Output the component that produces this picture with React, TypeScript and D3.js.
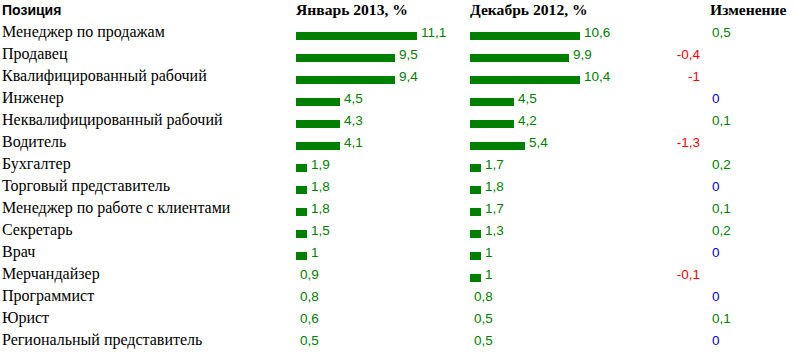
import React from "react";
import * as d3 from "d3";

const positions = [
  "Менеджер по продажам",
  "Продавец",
  "Квалифицированный рабочий",
  "Инженер",
  "Неквалифицированный рабочий",
  "Водитель",
  "Бухгалтер",
  "Торговый представитель",
  "Менеджер по работе с клиентами",
  "Секретарь",
  "Врач",
  "Мерчандайзер",
  "Программист",
  "Юрист",
  "Региональный представитель",
];
const jan2013 = [11.1, 9.5, 9.4, 4.5, 4.3, 4.1, 1.9, 1.8, 1.8, 1.5, 1, 0.9, 0.8, 0.6, 0.5];
const dec2012 = [10.6, 9.9, 10.4, 4.5, 4.2, 5.4, 1.7, 1.8, 1.7, 1.3, 1, 1, 0.8, 0.5, 0.5];
const change = [0.5, -0.4, -1, 0, 0.1, -1.3, 0.2, 0, 0.1, 0.2, 0, -0.1, 0, 0.1, 0];
const headers = ["Позиция", "Январь 2013, %", "Декабрь 2012, %", "Изменение"];

const W = 795;
const H = 360;
const GREEN = "#008000";
const RED = "#ff0000";
const BLUE = "#0000ff";
const SERIF = "Liberation Serif";
const SANS = "Liberation Sans";

const fmt = (v: number) => String(v).replace(".", ",");

export default function App() {
  const y = d3
    .scaleBand<number>()
    .domain(d3.range(positions.length))
    .range([22, 22 + 22 * positions.length])
    .paddingInner(0);
  // bars are drawn as whole-unit image strips (floor of the value)
  const len = d3.scaleLinear().domain([0, 1]).range([0, 11]);
  const janX = 296;
  const decX = 470;
  const chg = d3.scaleLinear().domain([-1, 1]).range([700, 712]);

  const serif = { fontFamily: SERIF };
  const sans = { fontFamily: SANS };

  return (
    <svg width={W} height={H} style={{ position: "absolute", left: 0, top: 0, background: "#fff" }}>
      <text x={2} y={15} style={sans} fontWeight="bold" fontSize={14} fill="#000">
        {headers[0]}
      </text>
      <text x={296} y={15} style={serif} fontWeight="bold" fontSize={15.6} fill="#000">
        {headers[1]}
      </text>
      <text x={470} y={15} style={serif} fontWeight="bold" fontSize={15.6} fill="#000">
        {headers[2]}
      </text>
      <text x={710} y={15} style={serif} fontWeight="bold" fontSize={15.6} fill="#000">
        {headers[3]}
      </text>
      {positions.map((p, i) => {
        const top = y(i)! + 10;
        const base = y(i)! + 15;
        const jw = len(Math.floor(jan2013[i]));
        const dw = len(Math.floor(dec2012[i]));
        const c = change[i];
        const cColor = c > 0 ? GREEN : c < 0 ? RED : BLUE;
        return (
          <g key={p}>
            <text x={2} y={base} style={serif} fontSize={16} fill="#000">
              {p}
            </text>
            {jw > 0 && <rect x={janX} y={top} width={jw} height={8} fill={GREEN} />}
            <text x={janX + jw + 4} y={base} style={sans} fontSize={13.5} fill={GREEN}>
              {fmt(jan2013[i])}
            </text>
            {dw > 0 && <rect x={decX} y={top} width={dw} height={8} fill={GREEN} />}
            <text x={decX + dw + 4} y={base} style={sans} fontSize={13.5} fill={GREEN}>
              {fmt(dec2012[i])}
            </text>
            <text
              x={c < 0 ? chg(-1) : chg(1)}
              y={base}
              textAnchor={c < 0 ? "end" : "start"}
              style={sans}
              fontSize={13.5}
              fill={cColor}
            >
              {fmt(c)}
            </text>
          </g>
        );
      })}
    </svg>
  );
}
